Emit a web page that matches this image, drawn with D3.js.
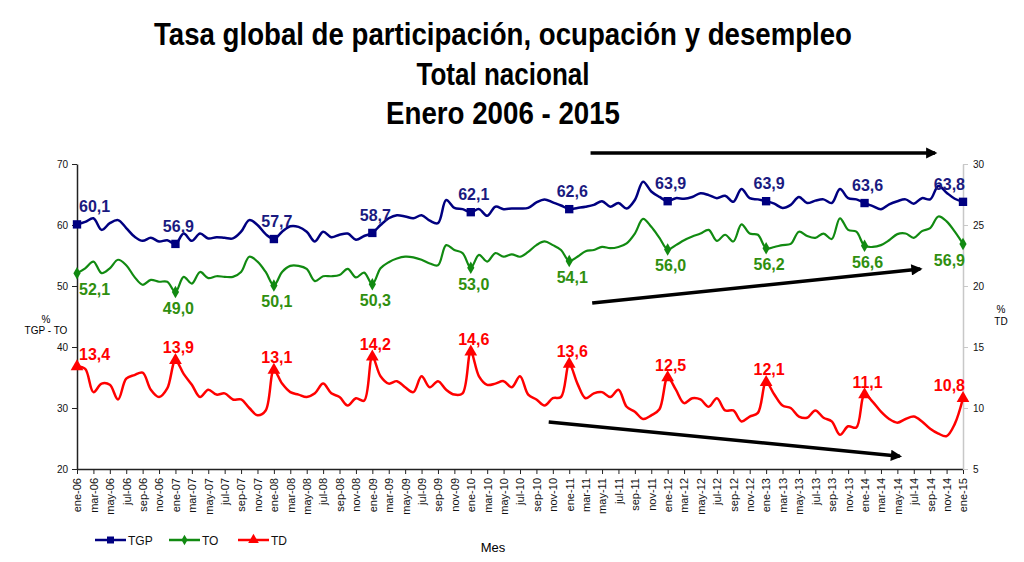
<!DOCTYPE html>
<html>
<head>
<meta charset="utf-8">
<script src="https://cdn.jsdelivr.net/npm/d3@7"></script>
<style>
  body { margin: 0; background: #fff; }
  text { font-family: "Liberation Sans", Arial, sans-serif; }
</style>
</head>
<body>
<div id="chart"></div>
<script>
// month names and years for the category axis
const mesNombres = ["ene", "feb", "mar", "abr", "may", "jun", "jul", "ago", "sep", "oct", "nov", "dic"];
const anios = ["06", "07", "08", "09", "10", "11", "12", "13", "14", "15"];

const meses = [];
anios.forEach(a => mesNombres.forEach(m => meses.push(m + "-" + a)));
meses.length = 109; // ene-06 .. ene-15

// Tasa global de participacion
const tgp = [60.1, 60.5, 61.1, 59.2, 60.3, 60.8, 59.5, 58.1, 57.4, 57.9, 57.3, 57.5,
  56.9, 58.6, 57.4, 58.6, 57.8, 58.0, 57.9, 57.8, 58.9, 60.8, 60.0, 58.5,
  57.7, 58.9, 59.8, 59.7, 58.9, 57.3, 58.9, 58.0, 58.4, 58.6, 57.6, 58.2,
  58.7, 60.0, 61.1, 61.6, 61.4, 61.1, 61.6, 60.7, 60.3, 64.1, 62.8, 62.6,
  62.1, 62.6, 61.5, 63.0, 62.6, 62.7, 62.7, 62.8, 63.7, 64.2, 63.7, 63.2,
  62.6, 62.8, 63.0, 63.3, 63.9, 63.0, 63.6, 62.7, 64.1, 67.1, 65.5, 64.6,
  63.9, 64.4, 64.3, 64.6, 65.2, 64.9, 64.4, 64.8, 63.8, 65.9, 64.4, 64.2,
  63.9, 63.5, 62.8, 63.3, 64.6, 63.6, 64.0, 64.2, 63.6, 65.9, 64.4, 64.2,
  63.6, 63.1, 62.6, 63.4, 63.9, 64.2, 63.5, 64.4, 64.2, 66.4, 65.3, 64.3,
  63.8];

// Tasa de ocupacion
const to = [52.1, 52.9, 54.0, 52.1, 52.9, 54.3, 53.4, 51.5, 50.2, 51.0, 50.7, 50.7,
  49.0, 51.5, 50.4, 52.3, 51.3, 51.6, 51.5, 51.5, 52.3, 54.8, 54.0, 52.3,
  50.1, 52.3, 53.3, 53.3, 52.8, 50.8, 51.6, 51.6, 51.8, 52.8, 51.4, 52.2,
  50.3, 52.9, 53.9, 54.5, 54.8, 54.7, 54.3, 53.7, 53.4, 56.7, 55.9, 55.4,
  53.0, 55.1, 54.0, 55.4, 54.8, 55.2, 54.8, 55.6, 56.7, 57.3, 56.7, 55.9,
  54.1, 54.8, 55.7, 55.9, 56.4, 56.2, 56.4, 57.0, 58.6, 61.0, 59.7, 57.9,
  56.0, 56.7, 57.5, 58.1, 58.6, 59.2, 57.4, 58.4, 57.3, 60.1, 58.6, 58.4,
  56.2, 56.4, 56.7, 56.9, 58.9, 58.2, 57.9, 58.6, 57.7, 61.1, 59.2, 58.9,
  56.6, 56.4, 56.7, 57.5, 58.5, 58.6, 57.9, 59.0, 59.5, 61.4, 60.6, 58.9,
  56.9];

// Tasa de desempleo (eje derecho)
const td = [13.4, 13.2, 11.3, 12.0, 11.9, 10.7, 12.4, 12.7, 12.9, 11.5, 10.9, 11.6,
  13.9, 12.8, 11.9, 10.9, 11.5, 11.1, 11.2, 10.7, 10.7, 10.0, 9.4, 9.8,
  13.1, 12.0, 11.3, 11.1, 10.9, 11.2, 12.0, 11.2, 10.9, 10.2, 10.8, 10.6,
  14.2, 12.6, 12.0, 12.2, 11.7, 11.3, 12.6, 11.7, 12.2, 11.5, 11.1, 11.2,
  14.6, 12.6, 11.9, 12.0, 12.2, 11.7, 12.6, 11.1, 10.7, 10.2, 10.8, 10.9,
  13.6, 12.0, 10.8, 11.2, 11.3, 10.9, 11.5, 10.1, 9.7, 9.1, 9.4, 9.9,
  12.5, 11.5, 10.4, 10.8, 10.7, 10.1, 10.8, 9.8, 9.8, 8.9, 9.3, 9.6,
  12.1, 11.1, 10.2, 10.0, 9.3, 9.2, 9.8, 9.2, 8.9, 7.8, 8.5, 8.4,
  11.1, 10.5, 9.7, 9.1, 8.8, 9.1, 9.3, 8.9, 8.3, 7.9, 7.7, 8.7,
  10.8];

const leftTicks = [20, 30, 40, 50, 60, 70];
const rightTicks = [5, 10, 15, 20, 25, 30];

// trend arrows: [month index, left-axis value]
const flechas = [
  [[62.6, 71.8], [104.6, 71.8]],
  [[62.8, 47.2], [102.8, 52.8]],
  [[57.5, 27.7], [100.3, 22.1]]
];

const width = 1024, height = 562;
const margin = { top: 164, right: 61, bottom: 93, left: 77 };

const svg = d3.select("#chart").append("svg")
  .attr("width", width)
  .attr("height", height);

// Title
const titulo = [
  ["Tasa global de participación, ocupación y desempleo", 45, 698],
  ["Total nacional", 85, 173],
  ["Enero 2006 - 2015", 124, 234]
];
titulo.forEach(t => {
  svg.append("text")
    .attr("x", 503 - t[2] / 2)
    .attr("y", t[1])
    .attr("textLength", t[2])
    .attr("lengthAdjust", "spacingAndGlyphs")
    .style("font-size", "32px")
    .style("font-weight", "bold")
    .style("fill", "#000")
    .text(t[0]);
});

// Scales
const x = d3.scaleLinear().domain([0, 108]).range([margin.left, width - margin.right]);
const yL = d3.scaleLinear().domain([20, 70]).range([height - margin.bottom, margin.top]);
const yR = d3.scaleLinear().domain([5, 30]).range([height - margin.bottom, margin.top]);

// Axes
const xAxis = d3.axisBottom(x)
  .tickValues(d3.range(0, 109, 2))
  .tickFormat(i => meses[i])
  .tickSize(5)
  .tickSizeOuter(0);

const gx = svg.append("g")
  .attr("transform", "translate(0," + (height - margin.bottom) + ")")
  .call(xAxis);
gx.select(".domain").attr("stroke", "#222").attr("stroke-width", 1.5);
gx.selectAll(".tick line").attr("stroke", "#222");
gx.selectAll(".tick text")
  .attr("transform", "rotate(-90)")
  .attr("x", -9)
  .attr("y", 0)
  .attr("dy", "0.35em")
  .style("text-anchor", "end")
  .style("font-size", "11px")
  .style("fill", "#111");

const gl = svg.append("g")
  .attr("transform", "translate(" + margin.left + ",0)")
  .call(d3.axisLeft(yL).tickValues(leftTicks).tickSize(5).tickSizeOuter(0).tickPadding(4));
gl.select(".domain").attr("stroke", "#222").attr("stroke-width", 1.5);
gl.selectAll(".tick line").attr("stroke", "#222");
gl.selectAll(".tick text").style("font-size", "10px").style("fill", "#111");

const gr = svg.append("g")
  .attr("transform", "translate(" + (width - margin.right) + ",0)")
  .call(d3.axisRight(yR).tickValues(rightTicks).tickSize(5).tickSizeOuter(0).tickPadding(5));
gr.select(".domain").attr("stroke", "#c8c8c8").attr("stroke-width", 1.5);
gr.selectAll(".tick line").attr("stroke", "#c8c8c8");
gr.selectAll(".tick text").style("font-size", "10px").style("fill", "#111");

// Axis titles
svg.append("text").attr("x", 46).attr("y", 323).attr("text-anchor", "middle")
  .style("font-size", "10px").text("%");
svg.append("text").attr("x", 46).attr("y", 334).attr("text-anchor", "middle")
  .style("font-size", "10px").text("TGP - TO");
svg.append("text").attr("x", 1001).attr("y", 313).attr("text-anchor", "middle")
  .style("font-size", "10px").text("%");
svg.append("text").attr("x", 1001).attr("y", 325).attr("text-anchor", "middle")
  .style("font-size", "10px").text("TD");
svg.append("text").attr("x", 493).attr("y", 552).attr("text-anchor", "middle")
  .style("font-size", "13px").text("Mes");

// Series
const series = [
  { nombre: "TGP", valores: tgp, y: yL, color: "#000080", ancho: 2.5, simbolo: d3.symbolSquare, tam: 70, etiqueta: "#1a1a80" },
  { nombre: "TO", valores: to, y: yL, color: "#118a11", ancho: 2.2, simbolo: d3.symbolDiamond, tam: 45, etiqueta: "#2f8f0f" },
  { nombre: "TD", valores: td, y: yR, color: "#ff0000", ancho: 2.5, simbolo: d3.symbolTriangle, tam: 70, etiqueta: "#ff0000" }
];

const enero = d3.range(0, 109, 12);
const fmt = v => v.toFixed(1).replace(".", ",");

series.forEach(s => {
  const line = d3.line()
    .x((d, i) => x(i))
    .y(d => s.y(d))
    .curve(d3.curveCatmullRom.alpha(0.5));

  svg.append("path")
    .datum(s.valores)
    .attr("fill", "none")
    .attr("stroke", s.color)
    .attr("stroke-width", s.ancho)
    .attr("stroke-linejoin", "round")
    .attr("d", line);

  svg.selectAll(".m-" + s.nombre)
    .data(enero)
    .enter().append("path")
    .attr("class", "m-" + s.nombre)
    .attr("transform", i => "translate(" + x(i) + "," + s.y(s.valores[i]) + ")")
    .attr("d", d3.symbol().type(s.simbolo).size(s.tam))
    .attr("fill", s.color);

  const abajo = s.nombre === "TO";
  const dy = s.nombre === "TGP" ? -12 : (abajo ? 22 : -7);

  svg.selectAll(".l-" + s.nombre)
    .data(enero)
    .enter().append("text")
    .attr("class", "l-" + s.nombre)
    .attr("x", i => i === 0 ? x(i) + 2 : (i === 108 ? x(i) + 2 : x(i) + 3))
    .attr("y", i => s.y(s.valores[i]) + dy)
    .attr("text-anchor", i => i === 0 ? "start" : (i === 108 ? "end" : "middle"))
    .style("font-size", "16px")
    .style("font-weight", "bold")
    .style("fill", s.etiqueta)
    .text(i => fmt(s.valores[i]));
});

// Trend arrows
svg.append("defs").append("marker")
  .attr("id", "punta")
  .attr("viewBox", "0 0 10 10")
  .attr("refX", 8)
  .attr("refY", 5)
  .attr("markerWidth", 4.5)
  .attr("markerHeight", 3.2)
  .attr("markerUnits", "strokeWidth")
  .attr("orient", "auto")
  .append("path")
  .attr("d", "M0,0 L10,5 L0,10 Z")
  .attr("fill", "#000");

flechas.forEach(f => {
  svg.append("line")
    .attr("x1", x(f[0][0])).attr("y1", yL(f[0][1]))
    .attr("x2", x(f[1][0])).attr("y2", yL(f[1][1]))
    .attr("stroke", "#000")
    .attr("stroke-width", 3.5)
    .attr("marker-end", "url(#punta)");
});

// Legend
const leyenda = svg.append("g").attr("transform", "translate(95,540)");
series.forEach((s, k) => {
  const g = leyenda.append("g").attr("transform", "translate(" + [0, 74, 143][k] + ",0)");
  g.append("line").attr("x1", 0).attr("x2", 31).attr("y1", 0).attr("y2", 0)
    .attr("stroke", s.color).attr("stroke-width", 2.5);
  g.append("path").attr("transform", "translate(15.5,0)")
    .attr("d", d3.symbol().type(s.simbolo).size(s.tam * 0.7))
    .attr("fill", s.color);
  g.append("text").attr("x", 33).attr("y", 5)
    .style("font-size", "12px").style("fill", "#111").text(s.nombre);
});
</script>
</body>
</html>
